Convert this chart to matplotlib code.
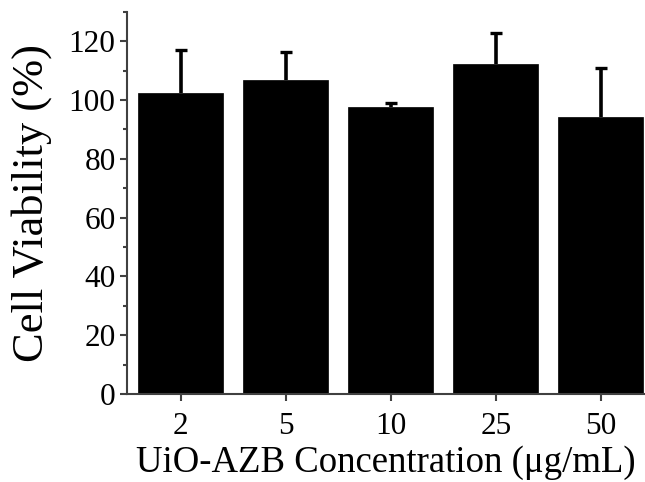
import matplotlib
matplotlib.use("Agg")
import matplotlib.pyplot as plt
from matplotlib.ticker import MultipleLocator

categories = ["2", "5", "10", "25", "50"]
viability = [102.3, 106.8, 97.5, 112.2, 94.3]
errors = [14.7, 9.4, 1.6, 10.5, 16.7]

plt.rcParams['font.family'] = ['Liberation Serif', 'DejaVu Serif']

fig = plt.figure(figsize=(6.45, 4.82), dpi=100)
ax = fig.add_axes([0.197, 0.1826, 0.803, 0.793])

x = list(range(len(categories)))
ax.bar(x, viability, width=0.81, color='black', edgecolor='black', linewidth=0.5, zorder=2)
eb = ax.errorbar(x, viability, yerr=[[0]*len(errors), errors], fmt='none', ecolor='black',
                 elinewidth=2.6, capsize=4.5, capthick=2.4, zorder=3)
# drop the lower caps (zero-length lower error)
caplines = eb[1]
if len(caplines) == 2:
    caplines[0].remove()

ax.set_xlim(-0.51, 4.42)
ax.set_ylim(0, 130)
ax.set_xticks(x)
ax.set_xticklabels(categories)
ax.yaxis.set_major_locator(MultipleLocator(20))
ax.yaxis.set_minor_locator(MultipleLocator(10))

for s in ['top', 'right']:
    ax.spines[s].set_visible(False)
for s in ['left', 'bottom']:
    ax.spines[s].set_linewidth(1.5)
    ax.spines[s].set_color('#404040')

ax.tick_params(axis='both', which='major', direction='out', length=5.3, width=1.5,
               color='#404040', labelsize=22.5)
ax.tick_params(axis='y', which='minor', direction='out', length=3, width=1.5, color='#404040')
ax.tick_params(axis='y', pad=3)
ax.tick_params(axis='x', pad=8)

ax.set_ylabel('Cell Viability (%)', fontsize=32, labelpad=12)
ax.set_xlabel('UiO-AZB Concentration (μg/mL)', fontsize=26.5, labelpad=3)

fig.savefig('out.png', dpi=100)
